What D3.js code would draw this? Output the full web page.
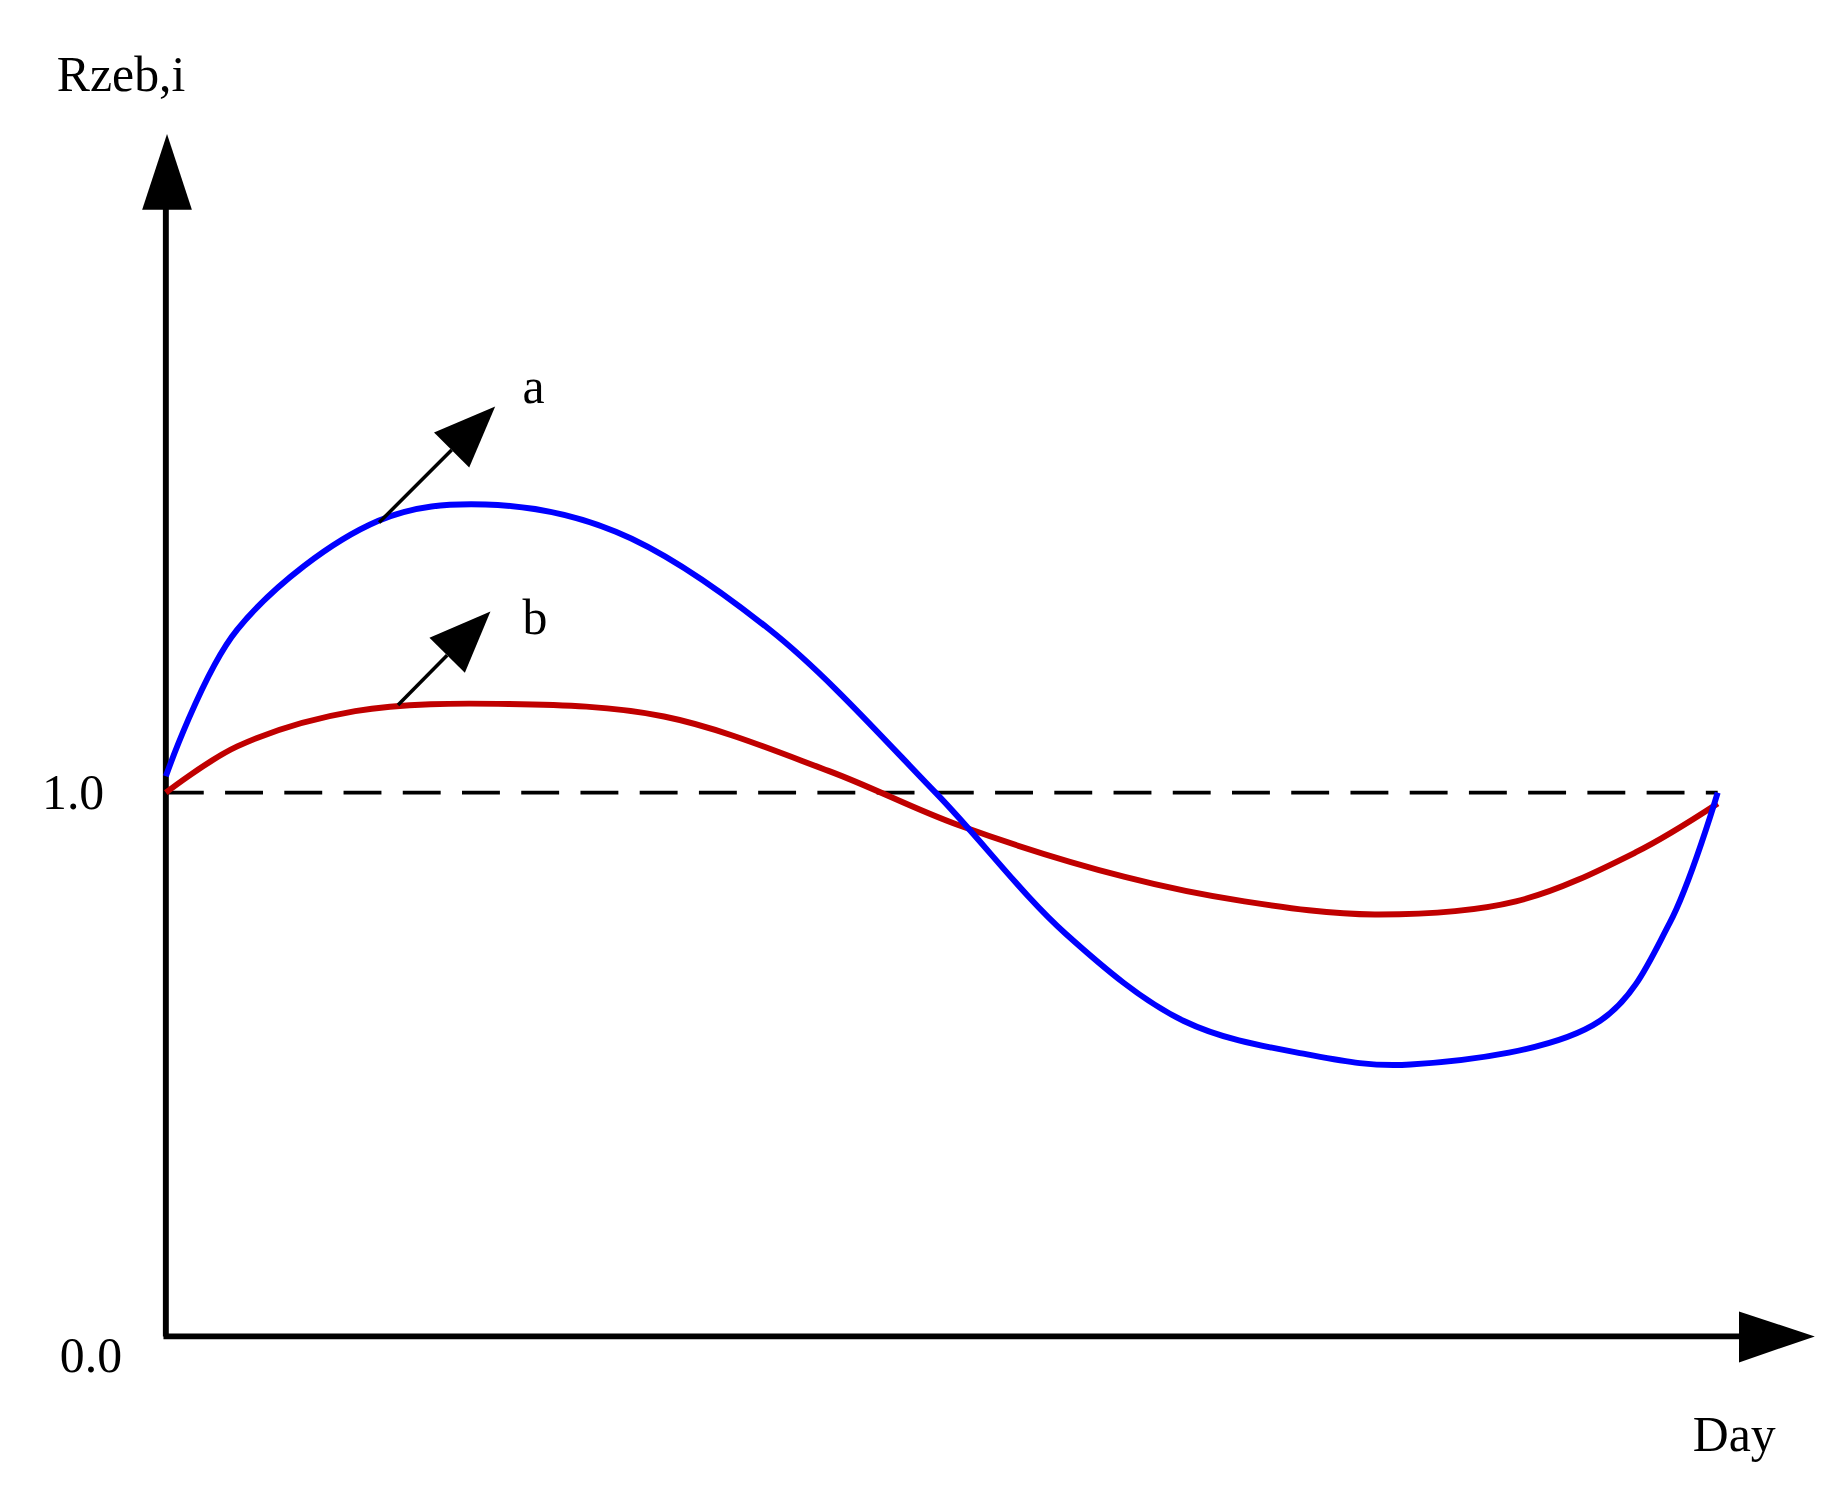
<!DOCTYPE html>
<html><head><meta charset="utf-8">
<script src="https://cdn.jsdelivr.net/npm/d3@7"></script>
<style>body{margin:0;background:#fff}text{font-family:"Liberation Serif","DejaVu Serif",serif;fill:#000}</style>
</head><body>
<script>
// days as fraction of the period, ratio values
var blueX = [0, 0.046, 0.137, 0.206, 0.29, 0.389, 0.496, 0.58, 0.656, 0.733, 0.802, 0.924, 0.969, 1.0];
var blueY = [1.03, 1.30, 1.50, 1.53, 1.48, 1.30, 1.0, 0.74, 0.58, 0.52, 0.50, 0.58, 0.76, 1.0];
var redX = [0, 0.046, 0.122, 0.221, 0.321, 0.427, 0.511, 0.618, 0.695, 0.779, 0.87, 0.947, 1.0];
var redY = [1.0, 1.085, 1.15, 1.163, 1.14, 1.04, 0.94, 0.845, 0.80, 0.776, 0.80, 0.89, 0.98];
var yTicks = [0, 1];

var svg = d3.select("body").append("svg")
    .attr("width", 1848).attr("height", 1500)
    .attr("viewBox", "0 0 1560 1266");

var x = d3.scaleLinear().domain([0, 1]).range([140, 1450]);
var y = d3.scaleLinear().domain([0, 1]).range([1128, 669]);

var line = d3.line().x(function(d){ return x(d[0]); }).y(function(d){ return y(d[1]); })
    .curve(d3.curveCatmullRom.alpha(0.5));

// axes
svg.append("line").attr("x1", x(0)).attr("y1", y(0)).attr("x2", x(0)).attr("y2", 170)
    .attr("stroke", "#000").attr("stroke-width", 5);
svg.append("path").attr("d", "M120,177 L162,177 L141,113 Z").attr("fill", "#000");
svg.append("line").attr("x1", x(0) - 2).attr("y1", y(0)).attr("x2", 1475).attr("y2", y(0))
    .attr("stroke", "#000").attr("stroke-width", 5);
svg.append("path").attr("d", "M1468,1107 L1468,1150 L1532,1128 Z").attr("fill", "#000");

// reference line at 1.0
svg.append("line").attr("x1", x(0)).attr("y1", y(1)).attr("x2", x(1)).attr("y2", y(1))
    .attr("stroke", "#000").attr("stroke-width", 3).attr("stroke-dasharray", "32,18");

svg.selectAll(".tick").data(yTicks).enter().append("text")
    .attr("x", function(d){ return d == 0 ? 103 : 88; })
    .attr("y", function(d){ return y(d) + (d == 0 ? 30 : 14); })
    .attr("text-anchor", "end").attr("font-size", 42)
    .text(function(d){ return d.toFixed(1); });

svg.append("path").datum(d3.zip(redX, redY)).attr("d", line)
    .attr("fill", "none").attr("stroke", "#c00000").attr("stroke-width", 5);
svg.append("path").datum(d3.zip(blueX, blueY)).attr("d", line)
    .attr("fill", "none").attr("stroke", "#0000ff").attr("stroke-width", 5);

// pointer arrows
var arrow = function(x1, y1, x2, y2, label, lx, ly){
    var a = Math.atan2(y2 - y1, x2 - x1), L = 52, W = 21;
    var bx = x2 - L * Math.cos(a), by = y2 - L * Math.sin(a);
    svg.append("line").attr("x1", x1).attr("y1", y1).attr("x2", bx).attr("y2", by)
        .attr("stroke", "#000").attr("stroke-width", 3);
    svg.append("path").attr("d", "M" + x2 + "," + y2 +
        " L" + (bx + W * Math.sin(a)) + "," + (by - W * Math.cos(a)) +
        " L" + (bx - W * Math.sin(a)) + "," + (by + W * Math.cos(a)) + " Z").attr("fill", "#000");
    svg.append("text").attr("x", lx).attr("y", ly).attr("font-size", 42).text(label);
};
arrow(320, 441, 418, 343, "a", 441, 340);
arrow(336, 595, 414, 516, "b", 441, 535);

svg.append("text").attr("x", 48).attr("y", 77).attr("font-size", 42).text("Rzeb,i");
svg.append("text").attr("x", 1429).attr("y", 1225).attr("font-size", 42).text("Day");
</script>
</body></html>
